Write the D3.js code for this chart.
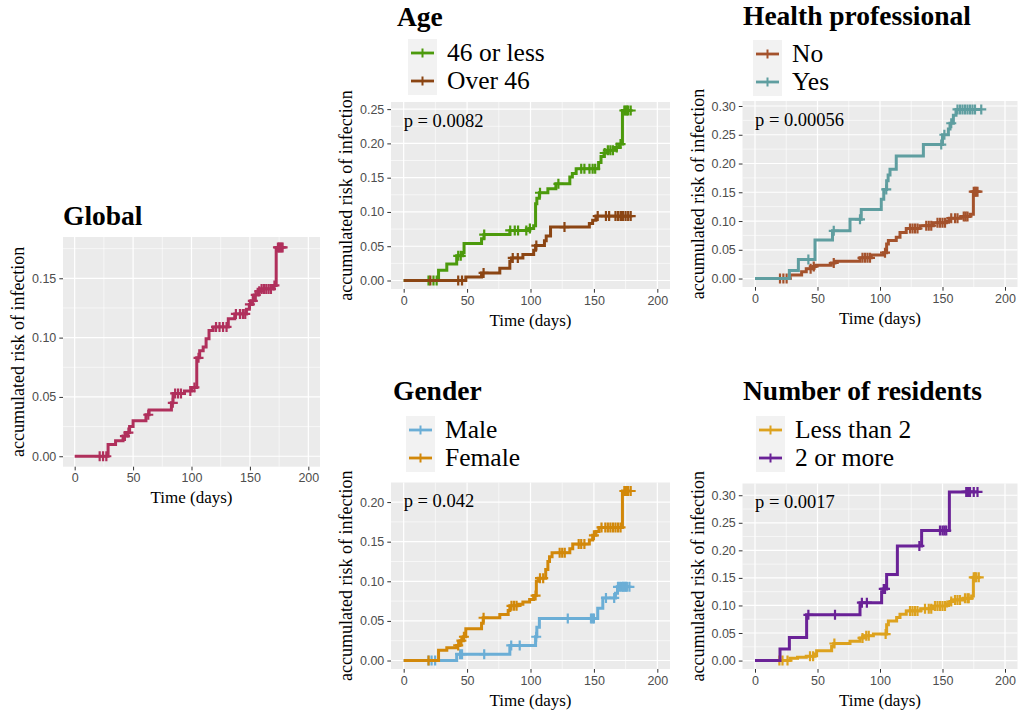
<!DOCTYPE html>
<html>
<head>
<meta charset="utf-8">
<script src="https://cdn.jsdelivr.net/npm/d3@7"></script>
<style>
  body { margin: 0; background: #fff; }
  svg { display: block; }
</style>
</head>
<body>
<svg id="chart" width="1024" height="717"></svg>
<script>
// ---- Shared axis ticks (days) ----
const timeTicks = [0, 50, 100, 150, 200];

// ---- Global ----
const globalTimes = [28.6, 35, 41.4, 44.5, 47, 50, 61, 63.7, 82.8, 84.2, 94, 100, 104.5, 107, 110, 112.5, 115, 118.5, 131.5, 137, 147, 149.5, 151.5, 153.6, 157, 159, 169.5, 172.5];
const globalRisk  = [0.010, 0.013, 0.017, 0.020, 0.025, 0.030, 0.035, 0.039, 0.045, 0.053, 0.055, 0.058, 0.083, 0.089, 0.092, 0.099, 0.106, 0.109, 0.116, 0.120, 0.124, 0.128, 0.131, 0.136, 0.139, 0.141, 0.144, 0.176];
const globalCens  = [21.4, 24.3, 27.1, 43, 46, 63, 84, 86, 88.5, 91, 99, 102.5, 106, 121, 124, 127, 130, 138, 141.5, 144, 146, 150, 152.5, 155, 158, 160, 162, 164, 166, 168, 171, 174, 175, 176, 177, 178];
const globalYTicks = [0, 0.05, 0.10, 0.15];

// ---- Age ----
const ageLowTimes = [27.5, 34, 41.8, 46.5, 47.6, 61.4, 63.3, 83.7, 99.3, 102.5, 104, 105, 107, 113.7, 120, 131, 133, 136, 153.7, 155.6, 158, 160.8, 167, 170, 172.5];
const ageLowRisk  = [0.015, 0.024, 0.036, 0.041, 0.054, 0.061, 0.067, 0.073, 0.076, 0.080, 0.112, 0.120, 0.128, 0.134, 0.141, 0.151, 0.156, 0.163, 0.172, 0.181, 0.186, 0.190, 0.194, 0.199, 0.248];
const ageLowCens  = [19.6, 23.5, 26, 43, 45, 63.5, 84, 87.6, 90.2, 96.7, 99.5, 107.5, 122, 140, 142.5, 146.5, 149, 151, 158.5, 161, 163, 165, 168, 171, 174, 175, 176, 177, 179];
const ageHighTimes = [49, 61.4, 75.8, 83.7, 85, 94, 102.5, 104, 111, 112.4, 115.8, 146.4, 149, 151.6];
const ageHighRisk  = [0.005, 0.011, 0.018, 0.028, 0.033, 0.038, 0.044, 0.051, 0.058, 0.065, 0.078, 0.083, 0.088, 0.094];
const ageHighCens  = [21, 43, 46, 63, 86, 90, 104.6, 126.8, 153, 159.5, 162, 167, 169, 171, 172, 173, 175, 177, 179];
const ageYTicks = [0, 0.05, 0.10, 0.15, 0.20, 0.25];

// ---- Health professional ----
const healthNoTimes = [28, 37.3, 41, 46.7, 48.8, 61, 64, 84, 93, 102.7, 105.3, 106.7, 113, 116, 121, 132, 142.7, 153, 155.5, 165, 172, 174.7];
const healthNoRisk  = [0.006, 0.012, 0.017, 0.021, 0.023, 0.027, 0.030, 0.036, 0.041, 0.045, 0.060, 0.066, 0.072, 0.080, 0.087, 0.092, 0.097, 0.100, 0.105, 0.108, 0.112, 0.151];
const healthNoCens  = [20, 22.7, 25.3, 44.5, 47, 63, 86, 88, 90, 92, 104, 124, 126, 128, 130, 137, 139, 141, 146, 148, 150, 152, 157, 160, 162, 167, 168.5, 170, 175, 176, 177, 178];
const healthYesTimes = [27.5, 34.7, 48, 62, 76, 85, 101, 103, 105.3, 106.5, 108, 113, 134.7, 150, 154.7, 156, 158.7, 160.8];
const healthYesRisk  = [0.014, 0.033, 0.067, 0.083, 0.103, 0.120, 0.138, 0.155, 0.170, 0.180, 0.190, 0.213, 0.233, 0.250, 0.260, 0.270, 0.284, 0.294];
const healthYesCens  = [42.7, 63, 84, 105, 149, 151.5, 157, 162, 164, 166, 168, 170, 172, 174, 176, 181];
const healthYTicks = [0, 0.05, 0.10, 0.15, 0.20, 0.25, 0.30];

// ---- Gender ----
const maleTimes = [41.8, 83.7, 104, 105, 107, 153, 157, 167, 168.6];
const maleRisk  = [0.008, 0.019, 0.030, 0.042, 0.053, 0.066, 0.079, 0.085, 0.093];
const maleCens  = [19.6, 22, 24.8, 44.5, 46, 63.5, 84.8, 91.5, 104.5, 129.4, 147.7, 149, 150, 159.5, 166, 169, 170.5, 172, 173, 174, 175, 176, 178];
const femaleTimes = [27.5, 34, 41.8, 44.4, 47, 49, 61.4, 62.7, 75.8, 82.4, 83.7, 90, 94, 99.3, 102.5, 104.6, 106, 112, 113.7, 115, 117, 131, 133.3, 146.4, 149, 151.6, 154, 172.5];
const femaleRisk  = [0.013, 0.016, 0.019, 0.025, 0.030, 0.040, 0.047, 0.054, 0.058, 0.063, 0.069, 0.071, 0.074, 0.077, 0.082, 0.100, 0.104, 0.115, 0.125, 0.131, 0.136, 0.141, 0.147, 0.152, 0.158, 0.163, 0.168, 0.214];
const femaleCens  = [19.6, 43, 45.5, 47.5, 63, 85, 87, 89, 104, 107.5, 110, 123, 125, 127, 138, 140, 142.5, 150, 156, 159, 161, 163, 165, 167, 169, 171, 174, 175, 176, 177, 179];
const genderYTicks = [0, 0.05, 0.10, 0.15, 0.20];

// ---- Number of residents ----
const fewTimes = [28, 34, 41, 48, 49.3, 61.3, 63, 76, 84, 86.7, 94.7, 105.3, 106.7, 113.3, 116, 121, 132.5, 142.7, 153.3, 156, 158.7, 166.7, 173.3, 174.7];
const fewRisk  = [0.004, 0.006, 0.008, 0.012, 0.018, 0.026, 0.031, 0.035, 0.041, 0.045, 0.048, 0.065, 0.072, 0.078, 0.084, 0.090, 0.094, 0.099, 0.103, 0.107, 0.110, 0.113, 0.117, 0.151];
const fewCens  = [19.5, 22, 26, 44, 46.5, 63.5, 86, 89, 91, 104.5, 124, 126, 128, 130, 136, 139, 141, 144, 146, 148, 150, 152, 157, 160, 162, 164, 168, 170, 171, 175, 176, 177, 179];
const manyTimes = [20, 27.5, 41.3, 84, 101.3, 102.5, 105.3, 113.9, 133.3, 155.5];
const manyRisk  = [0.021, 0.042, 0.083, 0.105, 0.125, 0.130, 0.156, 0.208, 0.236, 0.306];
const manyCens  = [42.7, 64, 85.5, 89.5, 103, 104, 131.5, 148, 150, 151.5, 153, 169, 170, 171, 172, 175, 178];
const residentsYTicks = [0, 0.05, 0.10, 0.15, 0.20, 0.25, 0.30];

// ---- Panel layout ----
const panels = [
  { title: "Global", box: { l: 63, t: 237, r: 320, b: 466.7 }, titleX: 63, titleY: 225, yTicks: globalYTicks, pText: null, legend: null,
    series: [{ name: "Global", times: globalTimes, risk: globalRisk, cens: globalCens, color: "#B0305C" }] },
  { title: "Age", box: { l: 391, t: 102, r: 670, b: 289 }, titleX: 397, titleY: 26, yTicks: ageYTicks, pText: "p = 0.0082",
    legend: { x: 408, t: 39 },
    series: [
      { name: "46 or less", times: ageLowTimes, risk: ageLowRisk, cens: ageLowCens, color: "#4C9A0C" },
      { name: "Over 46", times: ageHighTimes, risk: ageHighRisk, cens: ageHighCens, color: "#8B4513" }] },
  { title: "Health professional", box: { l: 742.5, t: 101, r: 1017.5, b: 287 }, titleX: 743, titleY: 25, yTicks: healthYTicks, pText: "p = 0.00056",
    legend: { x: 753, t: 40 },
    series: [
      { name: "No", times: healthNoTimes, risk: healthNoRisk, cens: healthNoCens, color: "#A4522C" },
      { name: "Yes", times: healthYesTimes, risk: healthYesRisk, cens: healthYesCens, color: "#5F9EA0" }] },
  { title: "Gender", box: { l: 391, t: 482.5, r: 670, b: 669 }, titleX: 393, titleY: 400, yTicks: genderYTicks, pText: "p = 0.042",
    legend: { x: 406, t: 416 },
    series: [
      { name: "Male", times: maleTimes, risk: maleRisk, cens: maleCens, color: "#6BAED6" },
      { name: "Female", times: femaleTimes, risk: femaleRisk, cens: femaleCens, color: "#D2880A" }] },
  { title: "Number of residents", box: { l: 742.5, t: 483.5, r: 1017.5, b: 669 }, titleX: 743, titleY: 400, yTicks: residentsYTicks, pText: "p = 0.0017",
    legend: { x: 756, t: 416 },
    series: [
      { name: "Less than 2", times: fewTimes, risk: fewRisk, cens: fewCens, color: "#DDA21E" },
      { name: "2 or more", times: manyTimes, risk: manyRisk, cens: manyCens, color: "#6A2297" }] }
];

const SERIF = '"Liberation Serif", "Times New Roman", serif';
const SANS = '"Liberation Sans", Arial, sans-serif';
const svg = d3.select("#chart");

// value of a step curve at time t
function riskAt(s, t) {
  const i = d3.bisectRight(s.times, t) - 1;
  return i < 0 ? 0 : s.risk[i];
}

function midpoints(ticks, lo, hi) {
  const step = ticks[1] - ticks[0];
  const out = [];
  for (let i = -1; i < ticks.length; i++) {
    const m = ticks[0] + step * (i + 0.5);
    if (m > lo && m < hi) out.push(m);
  }
  return out;
}

panels.forEach(p => {
  const g = svg.append("g");
  const { l, t, r, b } = p.box;
  const maxRisk = d3.max(p.series, s => d3.max(s.risk));
  const x = d3.scaleLinear().domain([-10, 210]).range([l, r]);
  const y = d3.scaleLinear().domain([-0.05 * maxRisk, 1.05 * maxRisk]).range([b, t]);

  // panel background
  g.append("rect").attr("x", l).attr("y", t).attr("width", r - l).attr("height", b - t).attr("fill", "#EBEBEB");

  // minor grid
  const xMinor = midpoints(timeTicks, x.domain()[0], x.domain()[1]);
  const yMinor = midpoints(p.yTicks, y.domain()[0], y.domain()[1]);
  g.selectAll(null).data(xMinor).join("line")
    .attr("x1", d => x(d)).attr("x2", d => x(d)).attr("y1", t).attr("y2", b)
    .attr("stroke", "#fff").attr("stroke-width", 0.6);
  g.selectAll(null).data(yMinor).join("line")
    .attr("y1", d => y(d)).attr("y2", d => y(d)).attr("x1", l).attr("x2", r)
    .attr("stroke", "#fff").attr("stroke-width", 0.6);
  // major grid
  g.selectAll(null).data(timeTicks).join("line")
    .attr("x1", d => x(d)).attr("x2", d => x(d)).attr("y1", t).attr("y2", b)
    .attr("stroke", "#fff").attr("stroke-width", 1.2);
  g.selectAll(null).data(p.yTicks).join("line")
    .attr("y1", d => y(d)).attr("y2", d => y(d)).attr("x1", l).attr("x2", r)
    .attr("stroke", "#fff").attr("stroke-width", 1.2);

  // axes
  const yAxis = g.append("g").attr("transform", `translate(${l},0)`)
    .call(d3.axisLeft(y).tickValues(p.yTicks).tickFormat(d3.format(".2f")).tickSize(3.7).tickPadding(3));
  const xAxis = g.append("g").attr("transform", `translate(0,${b})`)
    .call(d3.axisBottom(x).tickValues(timeTicks).tickSize(3.7).tickPadding(3));
  [yAxis, xAxis].forEach(ax => {
    ax.select(".domain").remove();
    ax.selectAll(".tick line").attr("stroke", "#333").attr("stroke-width", 1);
    ax.selectAll(".tick text").attr("fill", "#4D4D4D").style("font-family", SANS).style("font-size", "12.5px");
  });

  // curves
  const line = d3.line().x(d => x(d[0])).y(d => y(d[1])).curve(d3.curveStepAfter);
  p.series.forEach(s => {
    const end = Math.max(d3.max(s.cens), d3.max(s.times));
    const pts = [[0, 0], ...s.times.map((tt, i) => [tt, s.risk[i]]), [end, s.risk[s.risk.length - 1]]];
    g.append("path").attr("d", line(pts)).attr("fill", "none")
      .attr("stroke", s.color).attr("stroke-width", 3).attr("stroke-linejoin", "miter");
    const cg = g.append("g").attr("stroke", s.color).attr("stroke-width", 2.2);
    s.cens.forEach(c => {
      const cx = x(c), cy = y(riskAt(s, c));
      cg.append("path").attr("d", `M${cx - 5},${cy}H${cx + 5}M${cx},${cy - 5}V${cy + 5}`);
    });
  });

  // p-value
  if (p.pText) {
    g.append("text").attr("x", x(0)).attr("y", t + 24.5).text(p.pText)
      .style("font-family", SERIF).style("font-size", "18.5px").attr("fill", "#000");
  }

  // axis titles
  g.append("text").attr("x", (l + r) / 2).attr("y", b + 36.5).attr("text-anchor", "middle")
    .text("Time (days)").style("font-family", SERIF).style("font-size", "17px");
  g.append("text").attr("transform", `translate(${l - 45},${(t + b) / 2}) rotate(-90)`)
    .attr("text-anchor", "middle").attr("dy", "0.35em")
    .text("accumulated risk of infection").style("font-family", SERIF).style("font-size", "18px");

  // title
  g.append("text").attr("x", p.titleX).attr("y", p.titleY).text(p.title)
    .style("font-family", SERIF).style("font-size", "27.5px").style("font-weight", "bold");

  // legend
  if (p.legend) {
    const lg = p.legend, kh = 28, kw = 29;
    g.append("rect").attr("x", lg.x).attr("y", lg.t).attr("width", kw).attr("height", kh * p.series.length).attr("fill", "#F2F2F2");
    p.series.forEach((s, i) => {
      const cy = lg.t + kh * i + 14, cx = lg.x + kw / 2;
      g.append("line").attr("x1", cx - 11.5).attr("x2", cx + 11.5).attr("y1", cy).attr("y2", cy)
        .attr("stroke", s.color).attr("stroke-width", 2.8);
      g.append("line").attr("x1", cx).attr("x2", cx).attr("y1", cy - 4.5).attr("y2", cy + 4.5)
        .attr("stroke", s.color).attr("stroke-width", 2);
      g.append("text").attr("x", lg.x + 39).attr("y", cy + 7.5).text(s.name)
        .style("font-family", SERIF).style("font-size", "25.5px");
    });
  }
});
</script>
</body>
</html>
